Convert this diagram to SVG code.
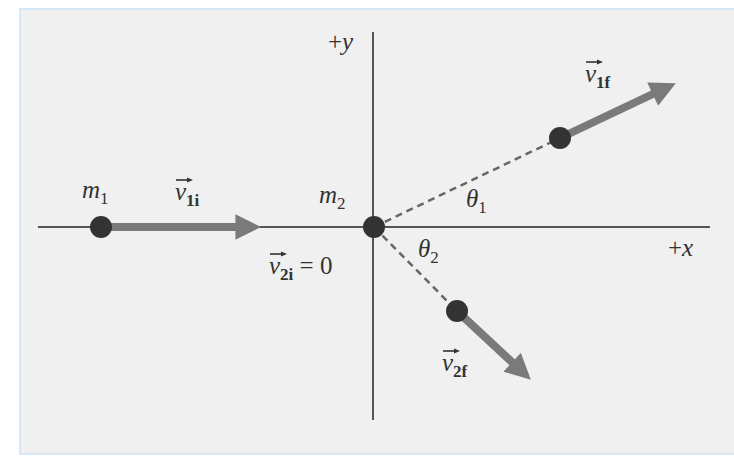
<svg xmlns="http://www.w3.org/2000/svg" width="734" height="456" viewBox="0 0 734 456">
<style>
.t{font-family:"Liberation Serif","DejaVu Serif",serif;font-size:25px;fill:#333}
.i{font-style:italic}
.s{font-size:17px;font-style:normal}
.b{font-weight:bold}
.axis{stroke:#555;stroke-width:2;fill:none}
.dash{stroke:#666;stroke-width:2.5;stroke-dasharray:7 5;fill:none}
.vec{stroke:#7a7a7a;stroke-width:8;fill:none}
.dot{fill:#333}
.acc{stroke:#333;stroke-width:1.6;fill:none}
</style>
<defs>
<marker id="ah" viewBox="0 0 10 10" refX="1" refY="5" markerWidth="3.4" markerHeight="3.2" orient="auto" markerUnits="strokeWidth">
<path d="M0,0 L10,5 L0,10 Z" fill="#7a7a7a"/>
</marker>
<marker id="acc" viewBox="0 0 10 10" refX="5" refY="5" markerWidth="4" markerHeight="4" orient="auto" markerUnits="strokeWidth">
<path d="M0,1 L10,5 L0,9 Z" fill="#333"/>
</marker>
</defs>
<rect x="20" y="9" width="740" height="445" fill="#f0f0f0" stroke="#d6e8f8" stroke-width="2"/>
<g id="connectors">
<line class="axis" x1="373" y1="32" x2="373" y2="420"/>
<line class="axis" x1="38" y1="227" x2="710" y2="227"/>
<line class="dash" x1="374" y1="227" x2="560" y2="138"/>
<line class="dash" x1="374" y1="227" x2="457" y2="311"/>
<line class="vec" x1="101" y1="227" x2="238" y2="227" marker-end="url(#ah)"/>
<line class="vec" x1="560" y1="138" x2="655" y2="93" marker-end="url(#ah)"/>
<line class="vec" x1="457" y1="311" x2="514" y2="364" marker-end="url(#ah)"/>
</g>
<g id="m1"><circle class="dot" cx="101" cy="227" r="11"/>
<text class="t i" x="82" y="198">m<tspan class="s" dy="6">1</tspan></text></g>
<g id="m2"><circle class="dot" cx="374" cy="227" r="11"/>
<text class="t i" x="319" y="203">m<tspan class="s" dy="6">2</tspan></text></g>
<g id="m1f"><circle class="dot" cx="560" cy="138" r="11"/></g>
<g id="m2f"><circle class="dot" cx="457" cy="311" r="11"/></g>
<g id="labels">
<text class="t" x="328" y="50">+<tspan class="i">y</tspan></text>
<text class="t" x="668" y="256">+<tspan class="i">x</tspan></text>
<text class="t i" x="466" y="207">θ<tspan class="s" dy="6">1</tspan></text>
<text class="t i" x="418" y="257">θ<tspan class="s" dy="6">2</tspan></text>
<g id="v1i"><line class="acc" x1="176" y1="180" x2="190" y2="180" marker-end="url(#acc)"/>
<text class="t i" x="175" y="200">v<tspan class="s b" dy="6">1i</tspan></text></g>
<g id="v2i"><line class="acc" x1="270" y1="254" x2="284" y2="254" marker-end="url(#acc)"/>
<text class="t" x="269" y="274"><tspan class="i">v</tspan><tspan class="s b" dy="6">2i</tspan><tspan dy="-6"> = 0</tspan></text></g>
<g id="v1f"><line class="acc" x1="586" y1="62" x2="600" y2="62" marker-end="url(#acc)"/>
<text class="t i" x="585" y="82">v<tspan class="s b" dy="6">1f</tspan></text></g>
<g id="v2f"><line class="acc" x1="443" y1="351" x2="457" y2="351" marker-end="url(#acc)"/>
<text class="t i" x="442" y="371">v<tspan class="s b" dy="6">2f</tspan></text></g>
</g>
</svg>
